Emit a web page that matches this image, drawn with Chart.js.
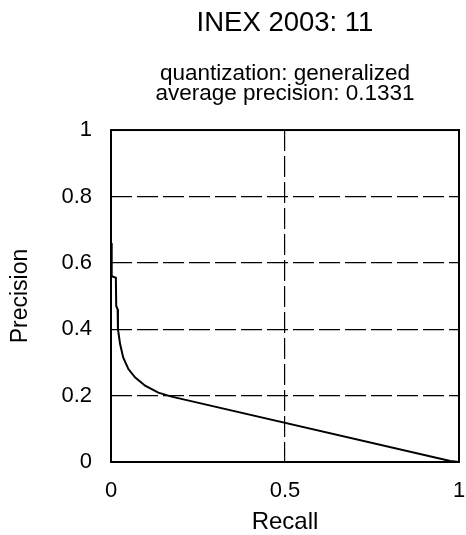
<!DOCTYPE html>
<html>
<head>
<meta charset="utf-8">
<script src="https://cdn.jsdelivr.net/npm/chart.js@4/dist/chart.umd.min.js"></script>
<style>
  html, body { margin: 0; padding: 0; background: #fff; }
</style>
</head>
<body>
<canvas id="c" width="466" height="535"></canvas>
<script>
// Interpolated precision/recall curve for topic 11
const recall    = [0.000, 0.002, 0.002, 0.014, 0.015, 0.019, 0.020, 0.026, 0.035, 0.050, 0.069, 0.098, 0.136, 0.174, 0.975, 1.000];
const precision = [0.660, 0.660, 0.560, 0.555, 0.470, 0.460, 0.400, 0.356, 0.315, 0.280, 0.255, 0.230, 0.209, 0.197, 0.003, 0.000];

const xTicks = [0, 0.5, 1];
const yTicks = [0, 0.2, 0.4, 0.6, 0.8, 1];

const titleText = 'INEX 2003: 11';
const subtitleLines = ['quantization: generalized', 'average precision: 0.1331'];
const xTitle = 'Recall';
const yTitle = 'Precision';

const FAMILY = '"Liberation Sans", Arial, Helvetica, sans-serif';
const INK = '#000';

// interior grid lines only; the edges are covered by the frame
const gridColor = ctx => {
  const v = ctx.tick ? ctx.tick.value : null;
  return (v === 0 || v === 1) ? 'rgba(0,0,0,0)' : INK;
};

// solid rectangle around the plotting area
const framePlugin = {
  id: 'frame',
  afterDatasetsDraw(chart) {
    const {ctx, chartArea: a} = chart;
    ctx.save();
    ctx.strokeStyle = INK;
    ctx.lineWidth = 2;
    ctx.setLineDash([]);
    ctx.strokeRect(a.left, a.top, a.right - a.left, a.bottom - a.top);
    ctx.restore();
  }
};

new Chart(document.getElementById('c'), {
  type: 'scatter',
  data: {
    datasets: [{
      data: recall.map((r, i) => ({x: r, y: precision[i]})),
      showLine: true,
      borderColor: INK,
      borderWidth: 2,
      pointRadius: 0,
      tension: 0,
      fill: false
    }]
  },
  options: {
    responsive: false,
    animation: false,
    layout: { padding: { left: 0, right: 7, top: 0, bottom: 0 } },
    plugins: {
      legend: { display: false },
      tooltip: { enabled: false },
      title: {
        display: true,
        fullSize: false,
        text: titleText,
        color: INK,
        font: { family: FAMILY, size: 27.5, weight: 'normal', lineHeight: 1.2 },
        padding: { top: 7, bottom: 0 }
      },
      subtitle: {
        display: true,
        fullSize: false,
        text: subtitleLines,
        color: INK,
        font: { family: FAMILY, size: 22.5, weight: 'normal', lineHeight: 0.89 },
        padding: { top: 24, bottom: 26 }
      }
    },
    scales: {
      x: {
        type: 'linear',
        min: 0,
        max: 1,
        afterBuildTicks: s => { s.ticks = xTicks.map(v => ({ value: v })); },
        afterFit: s => { s.height = 73; s.paddingLeft = 0; s.paddingRight = 0; },
        ticks: {
          color: INK,
          font: { family: FAMILY, size: 22 },
          padding: 16,
          maxRotation: 0,
          autoSkip: false,
          callback: v => String(v)
        },
        grid: { color: gridColor, lineWidth: 1.2, drawTicks: false },
        border: { display: false, dash: [21, 5] },
        title: {
          display: true,
          text: xTitle,
          color: INK,
          font: { family: FAMILY, size: 24, lineHeight: 1 },
          padding: { top: 0, bottom: 1 }
        }
      },
      y: {
        type: 'linear',
        min: 0,
        max: 1,
        afterBuildTicks: s => { s.ticks = yTicks.map(v => ({ value: v })); },
        afterFit: s => { s.width = 111; },
        ticks: {
          color: INK,
          font: { family: FAMILY, size: 22 },
          padding: 19,
          autoSkip: false,
          callback: v => String(v)
        },
        grid: { color: gridColor, lineWidth: 1.2, drawTicks: false },
        border: { display: false, dash: [21, 5] },
        title: {
          display: true,
          text: yTitle,
          color: INK,
          font: { family: FAMILY, size: 23, lineHeight: 1 },
          padding: { top: 9.5, bottom: 0 }
        }
      }
    }
  },
  plugins: [framePlugin]
});
</script>
</body>
</html>
